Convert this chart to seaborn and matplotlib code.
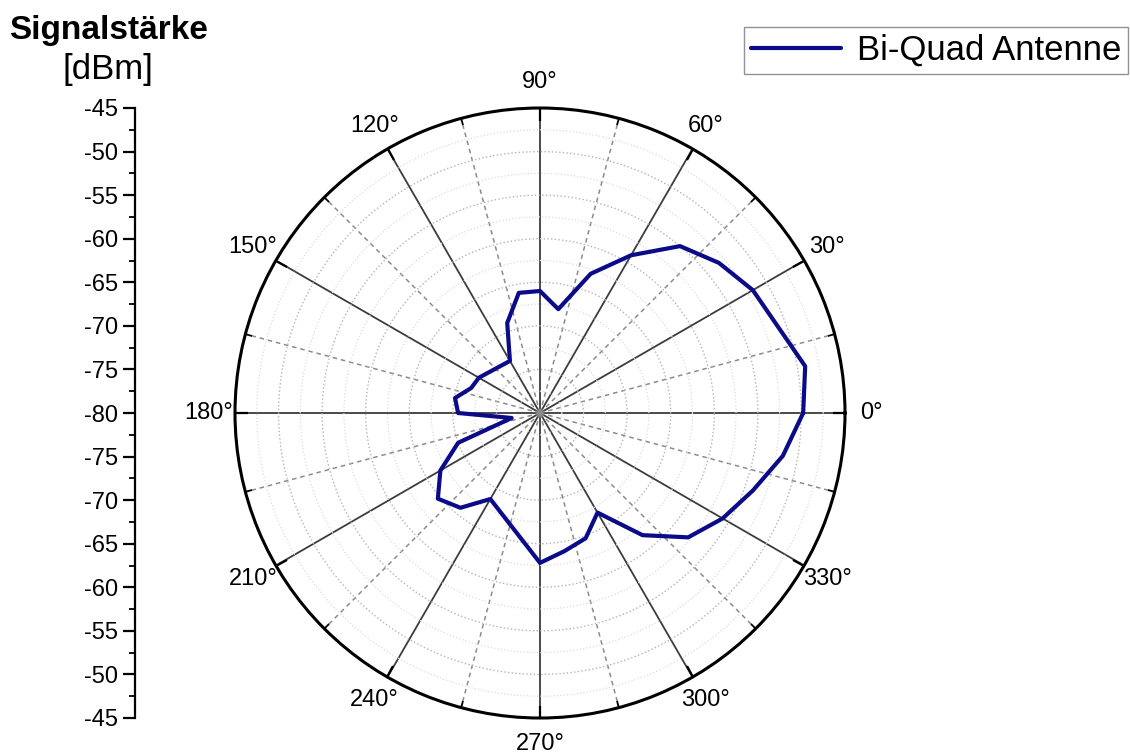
import numpy as np
import pandas as pd
import seaborn as sns
import matplotlib.pyplot as plt

# Messwerte (Winkel in Grad, Signalstaerke in dBm)
winkel = [0, 10, 30, 40, 50, 60, 70, 80, 90, 100, 110, 120, 150, 160, 170, 180,
          190, 200, 210, 220, 230, 240, 270, 280, 290, 300, 310, 320, 330, 340, 350, 360]
signal = [-49.8, -49.1, -51.8, -53.2, -55.0, -59.1, -63.0, -67.9, -66.0, -66.0, -69.0, -73.1,
          -71.9, -71.6, -70.1, -70.6, -76.7, -70.0, -66.8, -64.7, -65.8, -68.6, -62.8, -63.9,
          -64.7, -66.8, -61.7, -57.8, -55.8, -54.0, -51.7, -49.8]

winkel_labels = ["0°", "30°", "60°", "90°", "120°", "150°", "180°",
                 "210°", "240°", "270°", "300°", "330°"]
skala_labels = ["-45", "-50", "-55", "-60", "-65", "-70", "-75", "-80",
                "-75", "-70", "-65", "-60", "-55", "-50", "-45"]

df = pd.DataFrame({"theta": np.deg2rad(winkel), "r": signal})

sns.set_style("ticks")
plt.rcParams["font.family"] = ["Liberation Sans", "DejaVu Sans"]
plt.rcParams["text.color"] = "black"
plt.rcParams["xtick.color"] = "black"
plt.rcParams["ytick.color"] = "black"

fig = plt.figure(figsize=(11.3, 7.56), dpi=100)

# Polardiagramm
W, H = 1130, 756
cx, cy, rad = 540, 413, 305
ax = fig.add_axes([(cx - rad) / W, (H - cy - rad) / H, 2 * rad / W, 2 * rad / H],
                  projection="polar")
ax.set_ylim(-80, -45)
ax.set_xticks(np.deg2rad(np.arange(0, 360, 30)))
ax.set_xticklabels(winkel_labels, fontsize=17)
ax.set_xticks(np.deg2rad(np.arange(15, 360, 30)), minor=True)
ax.set_yticks(np.arange(-75, -45, 5))
ax.set_yticks(np.arange(-77.5, -45, 5), minor=True)
ax.set_yticklabels([])
ax.grid(which="major", axis="x", color="#3c3c3c", ls="-", lw=1.3)
ax.grid(which="minor", axis="x", color="#8c8c8c", ls=(0, (3, 2.5)), lw=1.1)
ax.grid(which="major", axis="y", color="#b4b4b4", ls=":", lw=1.0)
ax.grid(which="minor", axis="y", color="#dcdcdc", ls=":", lw=0.9)
ax.spines["polar"].set_linewidth(2.2)
ax.spines["polar"].set_color("black")
ax.tick_params(axis="x", which="major", direction="in", length=9, width=1.6,
               color="black", pad=12, bottom=False, top=True)
ax.tick_params(axis="x", which="minor", direction="in", length=5, width=1.3,
               color="black", bottom=False, top=True)
ax.tick_params(axis="y", which="both", left=False, right=False, length=0)

sns.lineplot(data=df, x="theta", y="r", sort=False, ax=ax, color="#0b0b8a",
             lw=3.0, label="Bi-Quad Antenne", legend=False)
ax.set_xlabel("")
ax.set_ylabel("")

# Skala links
sx = fig.add_axes([135 / W, (H - 718) / H, 0.001, (718 - 108) / H])
sx.set_ylim(-35, 35)
sx.set_xticks([])
pos = np.linspace(35, -35, len(skala_labels))
sx.set_yticks(pos)
sx.set_yticklabels(skala_labels, fontsize=17)
sx.set_yticks(np.arange(-32.5, 35, 5), minor=True)
for s in ["top", "right", "bottom"]:
    sx.spines[s].set_visible(False)
sx.spines["left"].set_linewidth(1.6)
sx.spines["left"].set_color("black")
sx.tick_params(axis="y", which="major", direction="out", length=9, width=1.6,
               color="black", pad=3, left=True)
sx.tick_params(axis="y", which="minor", direction="out", length=4, width=1.3,
               color="black", left=True)
sx.patch.set_visible(False)

fig.text(109 / W, 1 - 30 / H, "Signalstärke", fontsize=24, fontweight="bold",
         ha="center", va="center")
fig.text(108 / W, 1 - 70 / H, "[dBm]", fontsize=25, ha="center", va="center")

handles, labels = ax.get_legend_handles_labels()
fig.legend(handles, labels, loc="upper right", bbox_to_anchor=(1128 / W, 1 - 27 / H),
           fontsize=25, frameon=True, fancybox=False, edgecolor="#777777",
           handlelength=2.6, borderpad=0.2, handletextpad=0.45, borderaxespad=0)

fig.savefig("out.png", dpi=100)
